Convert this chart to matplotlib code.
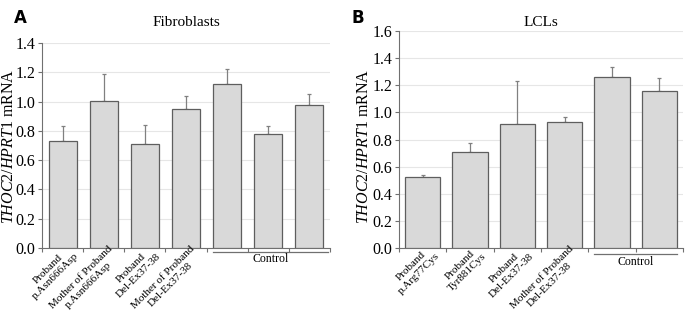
import matplotlib
matplotlib.use("Agg")
import matplotlib.pyplot as plt
import numpy as np

plt.rcParams['font.family'] = 'Liberation Serif'
plt.rcParams['mathtext.fontset'] = 'custom'
plt.rcParams['mathtext.it'] = 'Liberation Serif:italic'
plt.rcParams['mathtext.rm'] = 'Liberation Serif'

# panel A: fibroblasts
fib_labels = ["Proband\np.Asn666Asp", "Mother of Proband\np.Asn666Asp",
              "Proband\nDel-Ex37-38", "Mother of Proband\nDel-Ex37-38", "", "", ""]
fib_values = [0.73, 1.005, 0.71, 0.95, 1.12, 0.78, 0.98]
fib_err = [0.10, 0.18, 0.13, 0.085, 0.105, 0.05, 0.075]
fib_control = [4, 6]

# panel B: LCLs
lcl_labels = ["Proband\np.Arg77Cys", "Proband\nTyr881Cys", "Proband\nDel-Ex37-38",
              "Mother of Proband\nDel-Ex37-38", "", ""]
lcl_values = [0.52, 0.71, 0.915, 0.93, 1.26, 1.155]
lcl_err = [0.015, 0.065, 0.315, 0.035, 0.075, 0.095]
lcl_control = [4, 5]

W, H = 685, 321
fig = plt.figure(figsize=(6.85, 3.21), dpi=100)
axA = fig.add_axes([42 / W, 1 - 248 / H, 288 / W, 205 / H])
axB = fig.add_axes([399 / W, 1 - 248 / H, 284 / W, 217 / H])

def panel(ax, labels, vals, errs, ctrl, width, ymax, title, letter, px,
          lab_x, line_y, ctrl_y, line_ext):
    n = len(vals)
    x = np.arange(n) + 0.5
    ax.bar(x, vals, width=width, color='#d9d9d9', edgecolor='#5e5e5e', linewidth=0.9, zorder=3)
    ax.errorbar(x, vals, yerr=[np.zeros(n), errs], fmt='none', ecolor='#808080',
                elinewidth=0.9, capsize=1.5, capthick=0.9, zorder=2)
    ax.set_xlim(0, n)
    ax.set_ylim(0, ymax)
    yt = np.arange(0, ymax + 0.01, 0.2)
    ax.set_yticks(yt)
    ax.set_yticklabels(["%.1f" % v for v in yt], fontsize=11.5)
    ax.set_xticks(np.arange(n + 1))
    ax.set_xticklabels([])
    ax.yaxis.grid(True, color='#e6e6e6', linewidth=0.8, zorder=0)
    ax.set_axisbelow(True)
    for s in ['top', 'right']:
        ax.spines[s].set_visible(False)
    for s in ['left', 'bottom']:
        ax.spines[s].set_color('#707070')
    ax.tick_params(axis='both', colors='#707070', length=3, width=0.8)
    ax.tick_params(axis='y', labelcolor='black', pad=2)
    for i, lab in enumerate(labels):
        if lab:
            ax.text(x[i] + 0.09, 0.018, lab, rotation=45, ha='right', va='top',
                    ma='center', fontsize=8, transform=ax.get_xaxis_transform(),
                    rotation_mode='anchor')
    x0 = x[ctrl[0]] - width / 2
    x1 = x[ctrl[1]] + width / 2 + line_ext
    ax.plot([x0, x1], [line_y, line_y], color='#707070', linewidth=0.9,
            transform=ax.get_xaxis_transform(), clip_on=False)
    ax.text((x0 + x1) / 2, ctrl_y, "Control", ha='center', va='center', fontsize=8.5,
            transform=ax.get_xaxis_transform())
    fig.text(lab_x / W, 1 - 146 / H, r'$\mathit{THOC2/HPRT1}$ mRNA', fontsize=11.5,
             rotation=90, ha='center', va='center')
    pos = ax.get_position()
    fig.text((pos.x0 + pos.x1) / 2, 1 - 23 / H, title, fontsize=11, ha='center', va='center')
    fig.text(px / W, 1 - 18 / H, letter, fontsize=12, fontweight='bold', family='DejaVu Sans',
             ha='center', va='center')

panel(axA, fib_labels, fib_values, fib_err, fib_control, 0.68, 1.4, "Fibroblasts", "A", 20,
      9, -0.02, -0.054, 0.12)
panel(axB, lcl_labels, lcl_values, lcl_err, lcl_control, 0.74, 1.6, "LCLs", "B", 358,
      364, -0.028, -0.065, 0.0)

fig.savefig("out.png", dpi=100)
